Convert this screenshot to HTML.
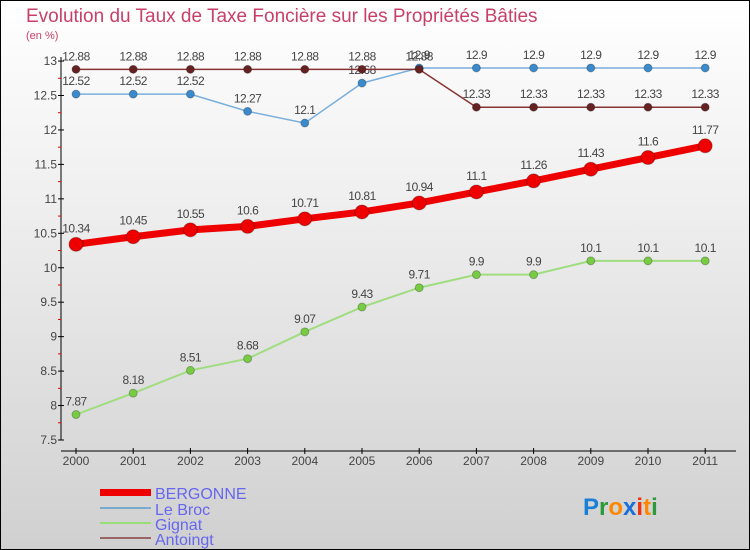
<!DOCTYPE html>
<html><head><meta charset="utf-8"><style>
body{margin:0}
#c{width:750px;height:550px;position:relative;background:linear-gradient(#ffffff,#f2f2f2 30%,#d0d0d0);box-sizing:border-box;border:1px solid #000;overflow:hidden;font-family:"Liberation Sans",sans-serif}
</style></head><body>
<div id="c">
<svg id="s" width="750" height="550" style="position:absolute;left:-1px;top:-1px" font-family="Liberation Sans, sans-serif">
<text x="26" y="22" font-size="19" fill="#c8406a">Evolution du Taux de Taxe Foncière sur les Propriétés Bâties</text>
<text x="26" y="39" font-size="11" fill="#c8406a">(en %)</text>
<g id="ax"></g><g id="ser"></g>
<g>
<rect x="100" y="489" width="51" height="7" fill="#e00"/>
<text x="155" y="499" font-size="16" fill="#6666ee">BERGONNE</text>
<rect x="100" y="507" width="51" height="2" fill="#7aaacc"/>
<text x="155" y="515" font-size="16" fill="#6666ee">Le Broc</text>
<rect x="100" y="522" width="51" height="2" fill="#99dd77"/>
<text x="155" y="530" font-size="16" fill="#6666ee">Gignat</text>
<rect x="100" y="537" width="51" height="2" fill="#996666"/>
<text x="155" y="545" font-size="16" fill="#6666ee">Antoingt</text>
</g>
<g font-size="24" font-weight="bold">
<text x="583" y="515"><tspan fill="#1a7fd8">P</tspan><tspan fill="#2a9a3a">r</tspan><tspan fill="#ff8800">o</tspan><tspan fill="#1a6fd8">x</tspan><tspan fill="#ee3311">i</tspan><tspan fill="#ff8800">t</tspan><tspan fill="#2a9a3a">i</tspan></text>
</g>
</svg>
</div>
<script>
const years=[2000,2001,2002,2003,2004,2005,2006,2007,2008,2009,2010,2011];
const bergonne=[10.34,10.45,10.55,10.6,10.71,10.81,10.94,11.1,11.26,11.43,11.6,11.77];
const leBroc=[12.52,12.52,12.52,12.27,12.1,12.68,12.9,12.9,12.9,12.9,12.9,12.9];
const gignat=[7.87,8.18,8.51,8.68,9.07,9.43,9.71,9.9,9.9,10.1,10.1,10.1];
const antoingt=[12.88,12.88,12.88,12.88,12.88,12.88,12.88,12.33,12.33,12.33,12.33,12.33];
const yTicks=[7.5,8,8.5,9,9.5,10,10.5,11,11.5,12,12.5,13];
const NS='http://www.w3.org/2000/svg';
const X=i=>76+i*57.2;
const Y=v=>440-(v-7.5)*68.9;
function mk(t,a,p){const e=document.createElementNS(NS,t);for(const k in a)e.setAttribute(k,a[k]);p.appendChild(e);return e;}
const ax=document.getElementById('ax'),ser=document.getElementById('ser');
let e=mk('line',{x1:61,y1:Y(13)-4,x2:61,y2:Y(7.5),stroke:'#000','stroke-width':1},ax);


e=mk('line',{x1:61,y1:451,x2:736,y2:451,stroke:'#000','stroke-width':1},ax);


yTicks.forEach((v,i)=>{
 mk('line',{x1:58,y1:Y(v),x2:64,y2:Y(v),stroke:'#000'},ax);
 if(i<yTicks.length-1)mk('line',{x1:58,y1:Y(v+0.25),x2:61,y2:Y(v+0.25),stroke:'#e00'},ax);
 const t=mk('text',{x:57,y:Y(v)+4,'font-size':12,fill:'#444','text-anchor':'end'},ax);t.textContent=String(v);
 
 
});
years.forEach((y,i)=>{
 mk('line',{x1:X(i),y1:448,x2:X(i),y2:454,stroke:'#000'},ax);
 const t=mk('text',{x:X(i),y:465,'font-size':12,fill:'#444','text-anchor':'middle'},ax);t.textContent=y;
 
 
});
function series(vals,color,dot,lw,r,name){
 const g=mk('g',{},ser);
 
 
 mk('polyline',{points:vals.map((v,i)=>X(i)+','+Y(v)).join(' '),fill:'none',stroke:color,'stroke-width':lw},g);
 vals.forEach((v,i)=>{
  const c=mk('circle',{cx:X(i),cy:Y(v),r:r,fill:dot,stroke:'rgba(0,0,0,0.25)','stroke-width':1},g);
  
  
  const t=mk('text',{x:X(i),y:Y(v)-r-5,'font-size':12,fill:'#444','text-anchor':'middle','letter-spacing':'-0.5'},g);t.textContent=String(v);
 });
}
series(gignat,'#a0dd80','#77cc44',2,4,'gignat');
series(leBroc,'#7aaedc','#3a8acc',1.5,4,'le-broc');
series(antoingt,'#883333','#662222',1.5,4,'antoingt');
series(bergonne,'#ee0000','#ee0000',7,7,'bergonne');
</script>
</body></html>
